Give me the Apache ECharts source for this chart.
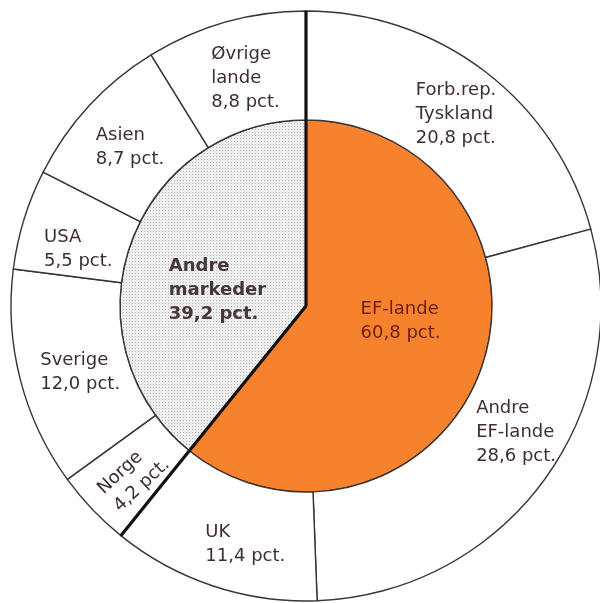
<!DOCTYPE html>
<html>
<head>
<meta charset="utf-8">
<script src="https://cdn.jsdelivr.net/npm/echarts@6/dist/echarts.min.js"></script>
<style>
html,body{margin:0;padding:0;background:#fff;}
#c{width:600px;height:603px;}
</style>
</head>
<body>
<div id="c"></div>
<script>
// ---- data ----
const innerNames = ['EF-lande', 'Andre\nmarkeder'];
const innerValues = [60.8, 39.2];
const outerNames = ['Forb.rep.\nTyskland', 'Andre\nEF-lande', 'UK', 'Norge', 'Sverige', 'USA', 'Asien', 'Øvrige\nlande'];
const outerValues = [20.8, 28.6, 11.4, 4.2, 12.0, 5.5, 8.7, 8.8];

// ---- styles ----
const CX = 306, CY = 306, R_OUT = 295, R_IN = 186;
const outerLabelOffsets = [[2,2],[14,-18],[16,7],[1,5],[10,6],[5,15],[3,6],[6,7]];
const innerLabelOffsets = [[4,-17],[2,16]];
const fmt = v => v.toFixed(1).replace('.', ',') + ' pct.';
const FONT = '"DejaVu Sans", sans-serif';
const richText = (p, key) => (p.name + '\n' + fmt(p.value)).split('\n').map(l => '{' + key + '|' + l + '}').join('\n');

const chart = echarts.init(document.getElementById('c'), null, {renderer: 'canvas'});

const outerData = outerNames.map((n, i) => {
  const d = {name: n, value: outerValues[i], label: {offset: outerLabelOffsets[i]}};
  if (n === 'Norge') d.label.rotate = 43;
  return d;
});

const innerData = innerNames.map((n, i) => ({
  name: n, value: innerValues[i],
  label: {offset: innerLabelOffsets[i]},
  itemStyle: i === 0
    ? {color: '#f7822e'}
    : {color: '#eeeeee', decal: {symbol: 'rect', symbolSize: 1, dashArrayX: [1, 2], dashArrayY: [1, 2], color: 'rgba(110,110,110,0.42)'}}
}));

chart.setOption({
  animation: false,
  backgroundColor: '#ffffff',
  polar: {center: [CX, CY], radius: R_OUT},
  angleAxis: {
    type: 'value', min: 0, max: 100, interval: innerValues[0],
    startAngle: 90, clockwise: true, z: 10,
    axisLine: {show: false}, axisTick: {show: false}, axisLabel: {show: false},
    splitLine: {show: true, lineStyle: {color: '#141010', width: 3.2}}
  },
  radiusAxis: {type: 'value', min: 0, max: 1, axisLine: {show: false}, axisTick: {show: false}, axisLabel: {show: false}, splitLine: {show: false}},
  series: [
    {
      type: 'pie', center: [CX, CY], radius: [0, R_IN],
      startAngle: 90, clockwise: true, silent: true,
      itemStyle: {borderColor: '#3a3030', borderWidth: 1.2},
      label: {
        show: true, position: 'inside',
        fontFamily: FONT, fontSize: 18, lineHeight: 24,
        formatter: p => richText(p, p.dataIndex === 0 ? 'ef' : 'am'),
        rich: {
          ef: {align: 'left', color: '#6b1e10', fontFamily: FONT, fontSize: 18, lineHeight: 24},
          am: {align: 'left', color: '#463838', fontWeight: 'bold', fontFamily: FONT, fontSize: 18, lineHeight: 24}
        }
      },
      labelLine: {show: false},
      data: innerData
    },
    {
      type: 'pie', center: [CX, CY], radius: [R_IN, R_OUT],
      startAngle: 90, clockwise: true, silent: true,
      itemStyle: {color: '#ffffff', borderColor: '#3a3434', borderWidth: 1.4},
      label: {
        show: true, position: 'inside',
        fontFamily: FONT, fontSize: 18, lineHeight: 24,
        formatter: p => richText(p, 't'),
        rich: {
          t: {align: 'left', color: '#3f2e30', fontFamily: FONT, fontSize: 18, lineHeight: 24}
        }
      },
      labelLine: {show: false},
      data: outerData
    }
  ]
});
</script>
</body>
</html>
